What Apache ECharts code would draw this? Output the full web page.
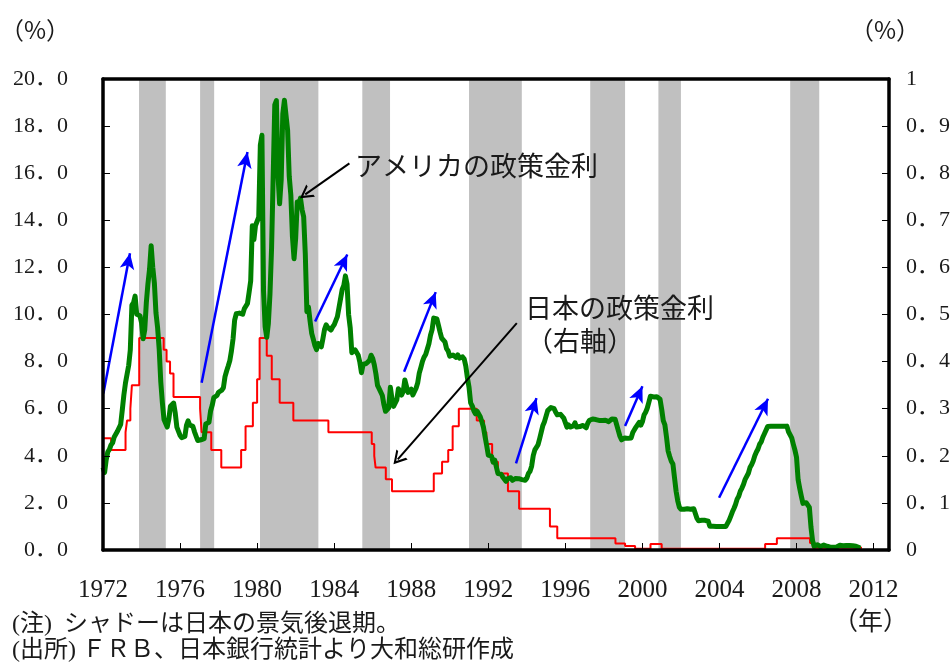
<!DOCTYPE html>
<html>
<head>
<meta charset="utf-8">
<script src="https://cdn.jsdelivr.net/npm/echarts@6/dist/echarts.min.js"></script>
<style>
html, body { margin: 0; padding: 0; background: #fff; }
#chart { width: 952px; height: 665px; }
</style>
</head>
<body>
<div id="chart"></div>
<script>
// アメリカの政策金利（月次、%）: 1972年1月から
const usStart = 1972;
const usRates = [
  3.50, 3.29, 3.83, 4.17, 4.27, 4.46, 4.55, 4.80, 4.87, 5.04, 5.06, 5.33,
  5.94, 6.58, 7.09, 7.12, 7.84, 8.49, 10.40, 10.50, 10.78, 10.01, 10.03, 9.95,
  9.65, 8.97, 9.35, 10.51, 11.31, 11.93, 12.92, 12.01, 11.34, 10.06, 9.45, 8.53,
  7.13, 6.24, 5.54, 5.49, 5.22, 5.55, 6.10, 6.14, 6.24, 5.82, 5.22, 5.20,
  4.87, 4.77, 4.84, 4.82, 5.29, 5.48, 5.31, 5.29, 5.25, 5.02, 4.95, 4.65,
  4.61, 4.68, 4.69, 4.73, 5.35, 5.39, 5.42, 5.90, 6.14, 6.47, 6.51, 6.56,
  6.70, 6.78, 6.79, 6.89, 7.36, 7.60, 7.81, 8.04, 8.45, 8.96, 9.76, 10.03,
  10.07, 10.06, 10.09, 10.01, 10.24, 10.29, 10.47, 10.94, 11.43, 13.77, 13.18, 13.78,
  13.82, 14.13, 17.19, 17.61, 10.98, 9.47, 9.03, 9.61, 10.87, 12.81, 15.85, 18.90,
  19.08, 15.93, 14.70, 15.72, 18.52, 19.10, 19.04, 17.82, 15.87, 15.08, 13.31, 12.37,
  13.22, 14.78, 14.68, 14.94, 14.45, 14.15, 12.59, 10.12, 10.31, 9.71, 9.20, 8.95,
  8.68, 8.51, 8.77, 8.80, 8.63, 8.98, 9.37, 9.56, 9.45, 9.48, 9.34, 9.47,
  9.56, 9.59, 9.91, 10.29, 10.32, 11.06, 11.23, 11.64, 11.30, 9.99, 9.43, 8.38,
  8.35, 8.50, 8.58, 8.27, 7.97, 7.53, 7.88, 7.90, 7.92, 7.99, 8.05, 8.27,
  8.14, 7.86, 7.48, 6.99, 6.85, 6.92, 6.56, 6.17, 5.89, 5.85, 6.04, 6.91,
  6.43, 6.10, 6.13, 6.37, 6.85, 6.73, 6.58, 6.73, 7.22, 7.29, 6.69, 6.77,
  6.83, 6.58, 6.58, 6.87, 7.09, 7.51, 7.75, 8.01, 8.19, 8.30, 8.35, 8.76,
  9.12, 9.36, 9.85, 9.84, 9.81, 9.53, 9.24, 8.99, 9.02, 8.84, 8.55, 8.45,
  8.23, 8.24, 8.28, 8.26, 8.18, 8.29, 8.15, 8.13, 8.20, 8.11, 7.81, 7.31,
  6.91, 6.25, 6.12, 5.91, 5.78, 5.90, 5.82, 5.66, 5.45, 5.21, 4.81, 4.43,
  4.03, 4.06, 3.98, 3.73, 3.82, 3.76, 3.25, 3.30, 3.22, 3.10, 3.09, 2.92,
  3.02, 3.03, 3.07, 2.96, 3.00, 3.04, 3.06, 3.03, 3.09, 2.99, 3.02, 2.96,
  3.05, 3.25, 3.34, 3.56, 4.01, 4.25, 4.26, 4.47, 4.73, 4.76, 5.29, 5.45,
  5.53, 5.92, 5.98, 6.05, 6.01, 6.00, 5.85, 5.74, 5.80, 5.76, 5.80, 5.60,
  5.56, 5.22, 5.31, 5.22, 5.24, 5.27, 5.40, 5.22, 5.30, 5.24, 5.31, 5.29,
  5.25, 5.19, 5.39, 5.51, 5.50, 5.56, 5.52, 5.54, 5.54, 5.50, 5.52, 5.50,
  5.56, 5.51, 5.49, 5.45, 5.49, 5.56, 5.54, 5.55, 5.51, 5.07, 4.83, 4.68,
  4.63, 4.76, 4.81, 4.74, 4.74, 4.76, 4.99, 5.07, 5.22, 5.20, 5.42, 5.30,
  5.45, 5.73, 5.85, 6.02, 6.27, 6.53, 6.54, 6.50, 6.52, 6.51, 6.51, 6.40,
  5.98, 5.49, 5.31, 4.80, 4.21, 3.97, 3.77, 3.65, 3.07, 2.49, 2.09, 1.82,
  1.73, 1.74, 1.73, 1.75, 1.75, 1.75, 1.73, 1.74, 1.75, 1.75, 1.34, 1.24,
  1.24, 1.26, 1.25, 1.26, 1.26, 1.22, 1.01, 1.03, 1.01, 1.01, 1.00, 0.98,
  1.00, 1.01, 1.00, 1.00, 1.00, 1.03, 1.26, 1.43, 1.61, 1.76, 1.93, 2.16,
  2.28, 2.50, 2.63, 2.79, 3.00, 3.04, 3.26, 3.50, 3.62, 3.78, 4.00, 4.16,
  4.29, 4.49, 4.59, 4.79, 4.94, 4.99, 5.24, 5.25, 5.25, 5.25, 5.25, 5.24,
  5.25, 5.26, 5.26, 5.25, 5.25, 5.25, 5.26, 5.02, 4.94, 4.76, 4.49, 4.24,
  3.94, 2.98, 2.61, 2.28, 1.98, 2.00, 2.01, 2.00, 1.81, 0.97, 0.39, 0.16,
  0.15, 0.22, 0.18, 0.15, 0.18, 0.21, 0.16, 0.16, 0.15, 0.12, 0.12, 0.12,
  0.11, 0.13, 0.16, 0.20, 0.20, 0.18, 0.18, 0.19, 0.19, 0.19, 0.19, 0.18,
  0.17, 0.16, 0.14, 0.10, 0.09
];

// 日本の政策金利（%）: 変更時点と新しい水準
const jpDates = [1972.0, 1972.42, 1973.17, 1973.25, 1973.42, 1973.5, 1973.88, 1975.15, 1975.3, 1975.48,
  1975.66, 1977.04, 1977.12, 1977.62, 1978.14, 1979.17, 1979.4, 1979.78, 1980.0, 1980.13,
  1980.5, 1980.76, 1981.17, 1981.88, 1983.7, 1985.95, 1986.08, 1986.15, 1986.68, 1987.0,
  1989.17, 1989.6, 1989.92, 1990.15, 1990.47, 1991.4, 1991.78, 1991.9, 1992.2, 1992.5,
  1993.02, 1993.6, 1995.2, 1995.58, 1998.6, 1999.1, 1999.62, 2000.42, 2001.0, 2006.37,
  2006.98, 2008.7, 2008.85, 2011.4];
const jpRates = [4.75, 4.25, 5.0, 5.5, 6.0, 7.0, 9.0, 8.5, 8.0, 7.5,
  6.5, 6.0, 5.0, 4.25, 3.5, 4.25, 5.25, 6.25, 7.25, 9.0,
  8.25, 7.25, 6.25, 5.5, 5.0, 4.5, 4.0, 3.5, 3.0, 2.5,
  3.25, 3.75, 4.25, 5.25, 6.0, 5.5, 5.0, 4.5, 3.75, 3.25,
  2.5, 1.75, 1.0, 0.5, 0.28, 0.17, 0.05, 0.25, 0.05, 0.25,
  0.5, 0.3, 0.1, 0.1];

// 日本の景気後退期
const recStart = [1973.87, 1977.04, 1980.15, 1985.46, 1991.0, 1997.29, 2000.83, 2007.67];
const recEnd = [1975.26, 1977.77, 1983.18, 1986.9, 1993.74, 1999.1, 2002.0, 2009.18];

// 青い矢印（利上げ局面）: 始点 → 先端 [年, %]
const blueFrom = [[1972.02, 6.65], [1977.12, 7.1], [1983.01, 9.7], [1987.63, 7.57], [1993.44, 3.68], [1999.1, 5.27], [2003.98, 2.22]];
const blueTo = [[1973.4, 12.6], [1979.5, 16.9], [1984.68, 12.55], [1989.27, 10.95], [1994.5, 6.45], [2000.0, 6.95], [2006.52, 6.42]];

// 注記の矢印
const blackFrom = [[1984.79, 16.42], [1993.48, 9.63]];
const blackTo = [[1982.5, 15.1], [1987.3, 3.85]];

const leftTicks = {min: 0, max: 20, step: 2};
const rightTicks = {min: 0, max: 1, step: 0.1};
const yearTicks = {min: 1972, max: 2012.8, step: 4};

const FONT_NUM = "'Liberation Serif', 'Noto Sans CJK JP', serif";
const FONT_JP = "'Noto Sans CJK JP', sans-serif";
const TXT = "#1a1a1a";

const chart = echarts.init(document.getElementById("chart"));

const usData = usRates.map((v, i) => [usStart + i / 12, v]);
const jpData = jpDates.map((d, i) => [d, jpRates[i]]);

const axisLineStyle = {color: "#000", width: 3.5};

// 文字の注記（プロットの上に描く）
function note(x, y, text, font, size) {
	return {
		type: "text", x: x, y: y, z: 100,
		style: {text: text, fontFamily: font, fontSize: size, fill: TXT, textVerticalAlign: "middle"}
	};
}

const option = {
	animation: false,
	backgroundColor: "#fff",
	grid: {left: 103, right: 63, top: 79, bottom: 115, outerBoundsMode: "none"},
	xAxis: [
		{
			type: "value",
			min: yearTicks.min,
			max: yearTicks.max,
			interval: yearTicks.step,
			z: 10,
			axisLine: {onZero: false, lineStyle: axisLineStyle},
			axisTick: {inside: true, length: 7, lineStyle: {color: "#000", width: 1}},
			axisLabel: {
				margin: 28,
				fontFamily: FONT_NUM,
				fontSize: 25,
				color: TXT,
				formatter: v => (Math.abs(v % 4) < 1e-6 ? String(Math.round(v)) : "")
			},
			splitLine: {show: false}
		},
		{
			type: "value",
			position: "top",
			min: yearTicks.min,
			max: yearTicks.max,
			z: 10,
			axisLine: {show: true, onZero: false, lineStyle: axisLineStyle},
			axisTick: {show: false},
			axisLabel: {show: false},
			splitLine: {show: false}
		}
	],
	yAxis: [
		{
			type: "value",
			min: leftTicks.min,
			max: leftTicks.max,
			interval: leftTicks.step,
			z: 10,
			axisLine: {show: true, lineStyle: axisLineStyle},
			axisTick: {show: true, inside: true, length: 7, lineStyle: {color: "#000", width: 1}},
			axisLabel: {
				margin: 35,
				fontFamily: FONT_NUM,
				fontSize: 22,
				color: TXT,
				formatter: v => v.toFixed(1).replace(".", "．")
			},
			splitLine: {show: false}
		},
		{
			type: "value",
			position: "right",
			min: rightTicks.min,
			max: rightTicks.max,
			interval: rightTicks.step,
			z: 10,
			axisLine: {show: true, lineStyle: axisLineStyle},
			axisTick: {show: true, inside: true, length: 7, lineStyle: {color: "#000", width: 1}},
			axisLabel: {
				margin: 17,
				fontFamily: FONT_NUM,
				fontSize: 22,
				color: TXT,
				formatter: v => {
					if (Math.abs(v) < 1e-9) return "0";
					if (Math.abs(v - 1) < 1e-9) return "1";
					return v.toFixed(1).replace(".", "．");
				}
			},
			splitLine: {show: false}
		}
	],
	series: [
		{
			name: "景気後退期",
			type: "line",
			data: [],
			z: 1,
			silent: true,
			markArea: {
				silent: true,
				itemStyle: {color: "#c0c0c0"},
				data: recStart.map((s, i) => [{xAxis: s}, {xAxis: recEnd[i]}])
			}
		},
		{
			name: "日本の政策金利",
			type: "line",
			data: jpData,
			step: "end",
			symbol: "none",
			z: 2,
			silent: true,
			lineStyle: {color: "#ff0000", width: 2}
		},
		{
			name: "アメリカの政策金利",
			type: "line",
			data: usData,
			symbol: "none",
			z: 3,
			silent: true,
			lineStyle: {color: "#008000", width: 5, join: "round"}
		},
		{
			name: "arrows",
			type: "line",
			data: [],
			z: 4,
			silent: true,
			markLine: {
				silent: true,
				symbol: ["none", "arrow"],
				symbolSize: [11, 16],
				label: {show: false},
				lineStyle: {type: "solid", color: "#0000ff", width: 2.5},
				data: blueFrom.map((p, i) => [{coord: p}, {coord: blueTo[i]}])
			}
		},
		{
			name: "notes",
			type: "line",
			data: [],
			z: 5,
			silent: true,
			markLine: {
				silent: true,
				symbol: ["none", "path://M0,10 L5,0 L10,10 L8.4,10 L5,3.2 L1.6,10 Z"],
				symbolSize: [15, 13],
				label: {show: false},
				itemStyle: {color: "#000"},
				lineStyle: {type: "solid", color: "#000", width: 2},
				data: blackFrom.map((p, i) => [{coord: p}, {coord: blackTo[i]}])
			}
		}
	],
	graphic: [
		note(0, 30, "（%）", FONT_JP, 24),
		note(850, 30, "（%）", FONT_JP, 24),
		note(833, 620, "（年）", FONT_JP, 25),
		note(355, 166, "アメリカの政策金利", FONT_JP, 27),
		note(525, 308, "日本の政策金利", FONT_JP, 27),
		note(526, 341, "（右軸）", FONT_JP, 27),
		note(12, 625, "(注)  シャドーは日本の景気後退期。", FONT_NUM, 24),
		note(12, 651, "(出所) ＦＲＢ、日本銀行統計より大和総研作成", FONT_NUM, 24)
	]
};

chart.setOption(option);
</script>
</body>
</html>
